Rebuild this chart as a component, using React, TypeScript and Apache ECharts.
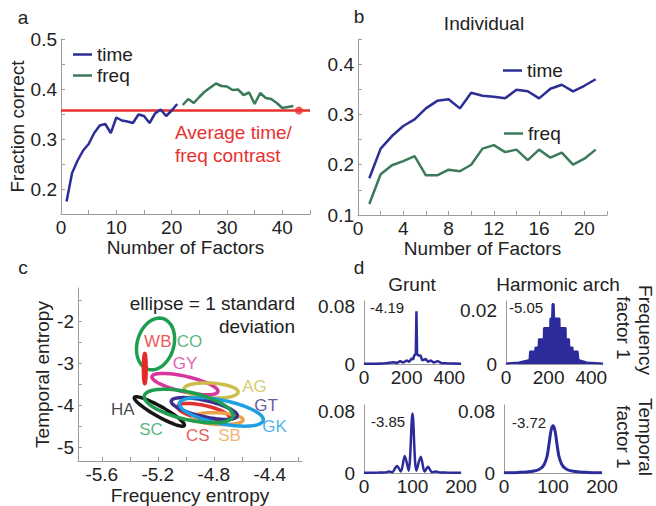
import { useEffect, useRef } from 'react';
import * as echarts from 'echarts';

const FONT = '"Liberation Sans", Arial, Helvetica, sans-serif';
const TEXT = '#222222';
const AXIS = '#9c9c9c';
const TIME_COLOR = '#2d2d96';
const FREQ_COLOR = '#3b7b5a';
const RED = '#e8312f';
const D_BLUE = '#2b2b9c';

// ---------- Panel a ----------
const factorsTime = [1, 2, 3, 4, 5, 6, 7, 8, 9, 10, 11, 12, 13, 14, 15, 16, 17, 18, 19, 20, 21];
const timeFractionCorrect = [0.175, 0.232, 0.257, 0.277, 0.29, 0.312, 0.327, 0.33, 0.312, 0.343, 0.337, 0.335, 0.332, 0.349, 0.346, 0.332, 0.351, 0.359, 0.346, 0.357, 0.37];
const factorsFreqCombined = [22, 23, 24, 25, 26, 27, 28, 29, 30, 31, 32, 33, 34, 35, 36, 37, 38, 39, 40, 41, 42];
const freqFractionCorrect = [0.368, 0.38, 0.372, 0.384, 0.395, 0.403, 0.411, 0.406, 0.405, 0.398, 0.399, 0.388, 0.393, 0.37, 0.392, 0.382, 0.38, 0.372, 0.362, 0.364, 0.366];
const averageContrast = 0.357;
const averageMarkerFactor = 43;
const aXTicks = [0, 5, 10, 15, 20, 25, 30, 35, 40, 45];
const aXLabels = [0, 10, 20, 30, 40];
const aYTicks = [0.15, 0.2, 0.25, 0.3, 0.35, 0.4, 0.45, 0.5];
const aYLabels = [0.2, 0.3, 0.4, 0.5];

// ---------- Panel b ----------
const factorsIndividual = [1, 2, 3, 4, 5, 6, 7, 8, 9, 10, 11, 12, 13, 14, 15, 16, 17, 18, 19, 20, 21];
const individualTime = [0.173, 0.232, 0.257, 0.277, 0.29, 0.312, 0.327, 0.33, 0.312, 0.343, 0.337, 0.335, 0.332, 0.349, 0.346, 0.332, 0.351, 0.359, 0.346, 0.357, 0.37];
const individualFreq = [0.122, 0.181, 0.199, 0.207, 0.217, 0.179, 0.179, 0.19, 0.187, 0.2, 0.232, 0.239, 0.225, 0.23, 0.209, 0.23, 0.214, 0.224, 0.2, 0.212, 0.23];
const bXTicks = [0, 2, 4, 6, 8, 10, 12, 14, 16, 18, 20, 22];
const bXLabels = [0, 4, 8, 12, 16, 20];
const bYTicks = [0.1, 0.15, 0.2, 0.25, 0.3, 0.35, 0.4, 0.45];
const bYLabels = [0.1, 0.2, 0.3, 0.4];

// ---------- Panel c (1-SD ellipses: centre, sd x, sd y, correlation) ----------
const ellipseNames = ['CO', 'GY', 'AG', 'HA', 'CS', 'SB', 'GT', 'GK', 'SC', 'WB'];
const ellipseCx = [-5.216, -5.006, -4.819, -5.189, -4.873, -4.771, -4.868, -4.746, -4.98, -5.293];
const ellipseCy = [-2.533, -3.488, -3.64, -4.14, -4.16, -4.31, -4.07, -4.15, -4.01, -3.12];
const ellipseSx = [0.136, 0.236, 0.193, 0.179, 0.186, 0.18, 0.236, 0.3, 0.317, 0.01];
const ellipseSy = [0.616, 0.254, 0.18, 0.351, 0.21, 0.142, 0.26, 0.34, 0.4, 0.36];
const ellipseRho = [0.2, -0.67, -0.2, -0.92, -0.6, -0.2, -0.65, -0.55, -0.55, 0];
const ellipseFilled = [0, 0, 0, 0, 0, 0, 0, 0, 0, 1];
const ellipseColors = ['#1f9e4f', '#d8359e', '#cdbd4c', '#151515', '#e03131', '#e9a24e', '#3c2f8e', '#1d9fe2', '#1f9e4f', '#e62a2a'];
const speciesLabels = ['WB', 'CO', 'GY', 'AG', 'GT', 'GK', 'HA', 'SC', 'CS', 'SB'];
const speciesLabelX = [-5.2, -4.974, -5.005, -4.509, -4.426, -4.366, -5.45, -5.248, -4.914, -4.688];
const speciesLabelY = [-2.47, -2.47, -2.99, -3.55, -4.01, -4.49, -4.09, -4.57, -4.71, -4.71];
const speciesLabelColors = ['#e62a2a', '#2ea35c', '#d8359e', '#cdbd4c', '#3c2f8e', '#1d9fe2', '#151515', '#2ea35c', '#e03131', '#e9a24e'];
const cXTicks = [-5.6, -5.4, -5.2, -5.0, -4.8, -4.6, -4.4, -4.2];
const cXLabels = [-5.6, -5.2, -4.8, -4.4];
const cYTicks = [-5, -4.5, -4, -3.5, -3, -2.5, -2, -1.5];
const cYLabels = [-5, -4, -3, -2];

// ---------- Panel d ----------
const gruntFreqX = [0, 60, 100, 140, 155, 170, 185, 200, 212, 224, 230, 236, 243, 246, 249, 255, 265, 273, 290, 300, 313, 327, 345, 362, 390, 455];
const gruntFreqY = [0.0005, 0.0005, 0.001, 0.0025, 0.0015, 0.004, 0.002, 0.005, 0.003, 0.008, 0.006, 0.012, 0.014, 0.074, 0.014, 0.012, 0.012, 0.005, 0.007, 0.003, 0.005, 0.002, 0.004, 0.0015, 0.001, 0.0005];
const harmFreqX = [0, 60, 110, 113, 137, 138, 153, 154, 177, 178, 207, 208, 216, 218, 224, 226, 251, 252, 280, 281, 296, 297, 312, 313, 336, 340, 380, 455];
const harmFreqY = [0.0002, 0.0006, 0.0015, 0.0047, 0.0047, 0.0062, 0.0062, 0.0092, 0.0092, 0.0134, 0.0134, 0.017, 0.017, 0.0224, 0.0224, 0.017, 0.017, 0.0134, 0.0134, 0.0092, 0.0092, 0.0062, 0.0062, 0.0047, 0.0047, 0.0015, 0.0006, 0.0002];
const gruntTimeX = [0, 30, 45, 52, 58, 68, 76, 84, 92, 100, 108, 117, 125, 132, 140, 148, 155, 170, 200];
const gruntTimeY = [0.0003, 0.0005, 0.0008, 0.002, 0.001, 0.009, 0.002, 0.022, 0.003, 0.077, 0.003, 0.021, 0.002, 0.008, 0.001, 0.002, 0.0008, 0.0005, 0.0003];
const harmTimeX = [0, 30, 50, 65, 75, 82, 88, 92, 96, 100, 104, 108, 112, 118, 125, 135, 150, 170, 200];
const harmTimeY = [0.0003, 0.0008, 0.0015, 0.003, 0.006, 0.011, 0.022, 0.038, 0.055, 0.061, 0.055, 0.038, 0.022, 0.011, 0.006, 0.003, 0.0015, 0.0008, 0.0003];
const dFreqXLabels = [0, 200, 400];
const dTimeXLabels = [0, 100, 200];
const entropyValues = ['-4.19', '-5.05', '-3.85', '-3.72'];

const zip = (xs: number[], ys: number[]) => xs.map((x, i) => [x, ys[i]]);

function valueAxis(gridIndex: number, min: number, max: number, labels: number[], ticks: number[] | null, extra: any = {}) {
  return {
    type: 'value',
    gridIndex,
    min,
    max,
    axisLine: { show: true, onZero: false, lineStyle: { color: AXIS, width: 1 } },
    axisTick: ticks
      ? { show: true, inside: true, length: 4, customValues: ticks, lineStyle: { color: AXIS } }
      : { show: false },
    axisLabel: {
      customValues: labels,
      color: TEXT,
      fontSize: 19,
      fontFamily: FONT,
      margin: 4,
      showMinLabel: true,
      showMaxLabel: true,
    },
    splitLine: { show: false },
    ...extra,
  };
}

const nameStyle = { fontSize: 19, color: TEXT, fontFamily: FONT };

function dYLabel(values: number[]) {
  return { axisLabel: { customValues: values, color: TEXT, fontSize: 19, fontFamily: FONT, margin: 9, showMinLabel: true, showMaxLabel: true } };
}

function txt(text: string, x: number, y: number, opts: any = {}) {
  return {
    type: 'text',
    x,
    y,
    rotation: opts.rotation || 0,
    style: {
      text,
      fill: opts.color || TEXT,
      font: `${opts.size || 19}px ${FONT}`,
      align: opts.align || 'center',
      verticalAlign: 'middle',
    },
    silent: true,
  };
}

export default function App() {
  const ref = useRef<HTMLDivElement>(null);
  useEffect(() => {
    if (!ref.current) return;
    const chart = echarts.init(ref.current, undefined, { renderer: 'svg' });
    const legendText = { fontSize: 19, color: TEXT, lineHeight: 19, fontFamily: FONT };
    const option: any = {
      animation: false,
      textStyle: { fontFamily: FONT },
      grid: [
        { left: 61, top: 39, width: 249, height: 175 },
        { left: 358, top: 39, width: 249, height: 176 },
        { left: 78, top: 288, width: 224, height: 174 },
        { left: 364, top: 301, width: 97, height: 63 },
        { left: 506, top: 301, width: 97, height: 63 },
        { left: 364, top: 405, width: 97, height: 68 },
        { left: 504, top: 405, width: 98, height: 68 },
      ],
      xAxis: [
        valueAxis(0, 0, 45, aXLabels, aXTicks, { name: 'Number of Factors', nameLocation: 'middle', nameGap: 22, nameTextStyle: nameStyle }),
        valueAxis(1, 0, 22, bXLabels, bXTicks, { name: 'Number of Factors', nameLocation: 'middle', nameGap: 22, nameTextStyle: nameStyle }),
        valueAxis(2, -5.77, -4.17, cXLabels, cXTicks, { name: 'Frequency entropy', nameLocation: 'middle', nameGap: 25, nameTextStyle: nameStyle }),
        valueAxis(3, 0, 455, dFreqXLabels, null),
        valueAxis(4, 0, 455, dFreqXLabels, null),
        valueAxis(5, 0, 200, dTimeXLabels, null),
        valueAxis(6, 0, 200, dTimeXLabels, null),
      ],
      yAxis: [
        valueAxis(0, 0.15, 0.5, aYLabels, aYTicks, { name: 'Fraction correct', nameLocation: 'middle', nameGap: 34, nameTextStyle: nameStyle }),
        valueAxis(1, 0.1, 0.45, bYLabels, bYTicks),
        valueAxis(2, -5.32, -1.2, cYLabels, cYTicks, { name: 'Temporal entropy', nameLocation: 'middle', nameGap: 26, nameTextStyle: nameStyle }),
        valueAxis(3, 0, 0.0884, [0, 0.08], null, dYLabel([0, 0.08])),
        valueAxis(4, 0, 0.0235, [0, 0.02], null, dYLabel([0, 0.02])),
        valueAxis(5, 0, 0.088, [0, 0.08], null, dYLabel([0, 0.08])),
        valueAxis(6, 0, 0.088, [0, 0.08], null, dYLabel([0, 0.08])),
      ],
      legend: [
        {
          data: ['time', 'freq'], orient: 'vertical', left: 73, top: 45, padding: 0, icon: 'rect',
          itemWidth: 19, itemHeight: 2.5, itemGap: 2, selectedMode: false, textStyle: legendText,
        },
        {
          data: ['time'], orient: 'vertical', left: 503, top: 61, padding: 0, icon: 'rect',
          itemWidth: 19, itemHeight: 2.5, selectedMode: false, textStyle: legendText,
        },
        {
          data: ['freq'], orient: 'vertical', left: 504, top: 124, padding: 0, icon: 'rect',
          itemWidth: 19, itemHeight: 2.5, selectedMode: false, textStyle: legendText,
        },
      ],
      series: [
        // panel a
        {
          name: 'avg', type: 'line', xAxisIndex: 0, yAxisIndex: 0, symbol: 'none',
          data: [[0, averageContrast], [45, averageContrast]],
          lineStyle: { color: RED, width: 2.5 }, itemStyle: { color: RED }, silent: true,
        },
        {
          name: 'avgMarker', type: 'scatter', xAxisIndex: 0, yAxisIndex: 0, symbolSize: 8,
          data: [[averageMarkerFactor, averageContrast]], itemStyle: { color: RED }, silent: true,
        },
        {
          name: 'time', type: 'line', xAxisIndex: 0, yAxisIndex: 0, symbol: 'none',
          data: zip(factorsTime, timeFractionCorrect),
          lineStyle: { color: TIME_COLOR, width: 2.5 }, itemStyle: { color: TIME_COLOR },
        },
        {
          name: 'freq', type: 'line', xAxisIndex: 0, yAxisIndex: 0, symbol: 'none',
          data: zip(factorsFreqCombined, freqFractionCorrect),
          lineStyle: { color: FREQ_COLOR, width: 2.5 }, itemStyle: { color: FREQ_COLOR },
        },
        // panel b
        {
          name: 'time', type: 'line', xAxisIndex: 1, yAxisIndex: 1, symbol: 'none',
          data: zip(factorsIndividual, individualTime),
          lineStyle: { color: TIME_COLOR, width: 2.5 }, itemStyle: { color: TIME_COLOR },
        },
        {
          name: 'freq', type: 'line', xAxisIndex: 1, yAxisIndex: 1, symbol: 'none',
          data: zip(factorsIndividual, individualFreq),
          lineStyle: { color: FREQ_COLOR, width: 2.5 }, itemStyle: { color: FREQ_COLOR },
        },
        // panel c
        {
          name: 'ellipses', type: 'custom', xAxisIndex: 2, yAxisIndex: 2, clip: false, silent: true,
          encode: { x: 0, y: 1 },
          data: ellipseNames.map((n, i) => ({
            name: n,
            value: [ellipseCx[i], ellipseCy[i], ellipseSx[i], ellipseSy[i], ellipseRho[i], ellipseFilled[i]],
            itemStyle: { color: ellipseColors[i] },
          })),
          renderItem: (_params: any, api: any) => {
            const cx = api.value(0), cy = api.value(1), sx = api.value(2), sy = api.value(3), rho = api.value(4);
            const filled = api.value(5) === 1;
            const color = api.visual('color');
            const k = Math.sqrt(1 - rho * rho);
            const pts: number[][] = [];
            const N = 90;
            for (let i = 0; i < N; i++) {
              const t = (i / N) * Math.PI * 2;
              pts.push(api.coord([cx + sx * Math.cos(t), cy + sy * (rho * Math.cos(t) + k * Math.sin(t))]));
            }
            return {
              type: 'polygon',
              shape: { points: pts },
              style: { fill: filled ? color : 'none', stroke: color, lineWidth: 3.5 },
            };
          },
        },
        {
          name: 'speciesLabels', type: 'scatter', xAxisIndex: 2, yAxisIndex: 2, symbolSize: 0, silent: true,
          data: speciesLabels.map((n, i) => ({
            name: n,
            value: [speciesLabelX[i], speciesLabelY[i]],
            label: { color: speciesLabelColors[i] },
          })),
          label: { show: true, position: 'inside', formatter: '{b}', fontSize: 17, fontFamily: FONT },
        },
        // panel d
        {
          name: 'gruntFreq', type: 'line', xAxisIndex: 3, yAxisIndex: 3, symbol: 'none',
          data: zip(gruntFreqX, gruntFreqY), lineStyle: { color: D_BLUE, width: 2.5 },
        },
        {
          name: 'harmFreq', type: 'line', xAxisIndex: 4, yAxisIndex: 4, symbol: 'none',
          data: zip(harmFreqX, harmFreqY), lineStyle: { color: D_BLUE, width: 2 },
          areaStyle: { color: D_BLUE, opacity: 1 },
        },
        {
          name: 'gruntTime', type: 'line', xAxisIndex: 5, yAxisIndex: 5, symbol: 'none', smooth: 0.3,
          data: zip(gruntTimeX, gruntTimeY), lineStyle: { color: D_BLUE, width: 2.5 },
        },
        {
          name: 'harmTime', type: 'line', xAxisIndex: 6, yAxisIndex: 6, symbol: 'none', smooth: 0.3,
          data: zip(harmTimeX, harmTimeY), lineStyle: { color: D_BLUE, width: 3 },
        },
      ],
      graphic: [
        txt('a', 23, 17),
        txt('b', 359, 16),
        txt('c', 23, 267),
        txt('d', 359, 267),
        txt('Individual', 484, 23),
        txt('Average time/', 175, 132, { align: 'left', color: RED }),
        txt('freq contrast', 175, 155, { align: 'left', color: RED }),
        txt('ellipse = 1 standard', 295, 303, { align: 'right' }),
        txt('deviation', 295, 326, { align: 'right' }),
        txt('Grunt', 412, 284),
        txt('Harmonic arch', 558, 284),
        txt(entropyValues[0], 387, 307, { size: 15 }),
        txt(entropyValues[1], 526, 307, { size: 15 }),
        txt(entropyValues[2], 388, 421, { size: 15 }),
        txt(entropyValues[3], 529, 422, { size: 15 }),
        txt('Frequency', 645, 330, { rotation: -Math.PI / 2 }),
        txt('factor 1', 623, 328, { rotation: -Math.PI / 2 }),
        txt('Temporal', 645, 437, { rotation: -Math.PI / 2 }),
        txt('factor 1', 623, 437, { rotation: -Math.PI / 2 }),
      ],
    };
    chart.setOption(option);
    return () => chart.dispose();
  }, []);
  return (
    <div
      ref={ref}
      style={{ position: 'fixed', left: 0, top: 0, width: 656, height: 506, background: '#ffffff' }}
    />
  );
}
